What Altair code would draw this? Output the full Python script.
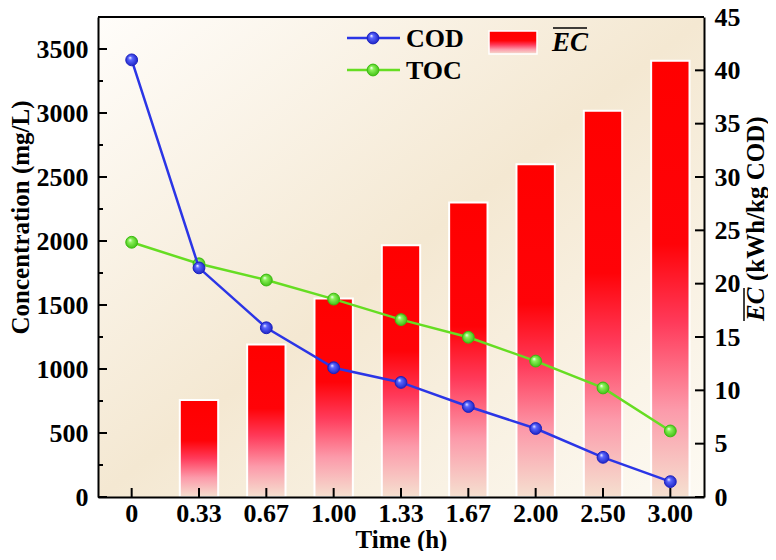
import altair as alt
import pandas as pd

# time points (h)
times = ["0", "0.33", "0.67", "1.00", "1.33", "1.67", "2.00", "2.50", "3.00"]
# concentrations (mg/L)
cod = [3415, 1790, 1322, 1010, 895, 707, 535, 310, 120]
toc = [1990, 1822, 1695, 1546, 1386, 1248, 1062, 852, 516]
# energy consumption (kWh/kg COD), no bar at t = 0
ec_times = times[1:]
ec = [9.1, 14.3, 18.6, 23.6, 27.6, 31.2, 36.2, 40.9]

left_ticks = [0, 500, 1000, 1500, 2000, 2500, 3000, 3500]
left_minor = [250, 750, 1250, 1750, 2250, 2750, 3250]
right_ticks = [0, 5, 10, 15, 20, 25, 30, 35, 40, 45]

W, H = 606, 480
FONT = "Liberation Serif"

axis_common = dict(
    labelFont=FONT, labelFontSize=26, labelFontWeight="bold", labelColor="black",
    titleFont=FONT, titleFontSize=25, titleFontWeight="bold", titleColor="black",
    ticks=False, grid=False, domainColor="black", domainWidth=2, zindex=1,
)


def x_enc(center):
    kw = {"bandPosition": 0.5} if center else {}
    return alt.X(
        "Time:O", sort=times,
        scale=alt.Scale(domain=times, paddingInner=0.43, paddingOuter=0.215),
        axis=alt.Axis(title="Time (h)", labelAngle=0, labelPadding=3,
                      titleY=50, titleBaseline="alphabetic", **axis_common),
        **kw,
    )


y_left = alt.Y(
    "Conc:Q", scale=alt.Scale(domain=[0, 3750], nice=False),
    axis=alt.Axis(orient="left", values=left_ticks, format="d",
                  title="Concentration (mg/L)", labelPadding=10,
                  titleX=-78, titleY=200, titleAngle=270,
                  titleBaseline="middle", titleAlign="center", **axis_common),
)
y_right = alt.Y(
    "EC:Q", scale=alt.Scale(domain=[0, 45], nice=False),
    axis=alt.Axis(orient="right", values=right_ticks, format="d", title="",
                  labelPadding=10, **axis_common),
)

bar_grad = alt.LinearGradient(
    gradient="linear", x1=0, y1=0, x2=0, y2=1,
    stops=[
        alt.GradientStop(offset=0, color="#ff0000"),
        alt.GradientStop(offset=0.42, color="#ff0308"),
        alt.GradientStop(offset=0.6, color="#ff3a5a"),
        alt.GradientStop(offset=0.8, color="#fc9aaa"),
        alt.GradientStop(offset=1, color="#f5e0d0"),
    ],
)
bg_grad = alt.LinearGradient(
    gradient="linear", x1=0, y1=0, x2=1, y2=1,
    stops=[
        alt.GradientStop(offset=0, color="#fffdfa"),
        alt.GradientStop(offset=0.5, color="#f4e8d2"),
        alt.GradientStop(offset=1, color="#fdfaf3"),
    ],
)


def sphere(light, dark):
    return alt.RadialGradient(
        gradient="radial", x1=0.35, y1=0.3, r1=0, x2=0.5, y2=0.5, r2=0.55,
        stops=[
            alt.GradientStop(offset=0, color="#ffffff"),
            alt.GradientStop(offset=0.3, color=light),
            alt.GradientStop(offset=1, color=dark),
        ],
    )


one = pd.DataFrame({"a": [0]})

bg = alt.Chart(one).mark_rect(fill=bg_grad).encode(
    x=alt.value(0), x2=alt.value(W), y=alt.value(0), y2=alt.value(H)
)

bars = alt.Chart(pd.DataFrame({"Time": ec_times, "EC": ec})).mark_bar(
    fill=bar_grad, stroke="white", strokeWidth=2
).encode(x=x_enc(False), y=y_right)

right_tk = alt.Chart(pd.DataFrame({"EC": right_ticks})).mark_rule(
    color="black", strokeWidth=2
).encode(y=y_right, x=alt.value(W - 9), x2=alt.value(W))

left_tk = alt.Chart(pd.DataFrame({"Conc": left_ticks})).mark_rule(
    color="black", strokeWidth=2
).encode(y=y_left, x=alt.value(0), x2=alt.value(9))
left_mn = alt.Chart(pd.DataFrame({"Conc": left_minor})).mark_rule(
    color="black", strokeWidth=2
).encode(y=y_left, x=alt.value(0), x2=alt.value(5))
x_tk = alt.Chart(pd.DataFrame({"Time": times})).mark_rule(
    color="black", strokeWidth=2
).encode(x=x_enc(True), y=alt.value(H), y2=alt.value(H - 9))


def series(values, color, light, dark):
    base = alt.Chart(pd.DataFrame({"Time": times, "Conc": values})).encode(
        x=x_enc(True), y=y_left
    )
    line = base.mark_line(color=color, strokeWidth=2.5)
    pts = base.mark_circle(size=140, opacity=1, fill=sphere(light, dark),
                           stroke=dark, strokeWidth=1)
    return line + pts


cod_l = series(cod, "#2b35e6", "#5a66ff", "#1a20c0")
toc_l = series(toc, "#66dd22", "#8cf25a", "#3cbc10")

# legend
def leg_item(label, y, color, light, dark):
    ln = alt.Chart(one).mark_rule(color=color, strokeWidth=2.5).encode(
        x=alt.value(249), x2=alt.value(302), y=alt.value(y)
    )
    pt = alt.Chart(one).mark_circle(size=140, opacity=1, fill=sphere(light, dark),
                                    stroke=dark, strokeWidth=1).encode(
        x=alt.value(275), y=alt.value(y)
    )
    tx = alt.Chart(one).mark_text(
        text=label, font=FONT, fontSize=26, fontWeight="bold", color="black",
        align="left", baseline="middle"
    ).encode(x=alt.value(308), y=alt.value(y + 1))
    return ln + pt + tx


leg_cod = leg_item("COD", 21, "#2b35e6", "#5a66ff", "#1a20c0")
leg_toc = leg_item("TOC", 53, "#66dd22", "#8cf25a", "#3cbc10")
leg_rect = alt.Chart(one).mark_rect(fill=bar_grad, stroke="white", strokeWidth=1.5).encode(
    x=alt.value(391), x2=alt.value(439), y=alt.value(14), y2=alt.value(37)
)
leg_ec = alt.Chart(one).mark_text(
    text="EC", font=FONT, fontSize=27, fontStyle="italic", fontWeight="bold",
    color="black", align="left", baseline="middle"
).encode(x=alt.value(454), y=alt.value(26))
leg_bar = alt.Chart(one).mark_rule(color="black", strokeWidth=1.5).encode(
    x=alt.value(455), x2=alt.value(489), y=alt.value(11)
)

# right axis title
rt_ec = alt.Chart(one).mark_text(
    text="EC", font=FONT, fontSize=25, fontStyle="italic", fontWeight="bold",
    color="black", align="left", baseline="middle", angle=270
).encode(x=alt.value(W + 52), y=alt.value(304))
rt_unit = alt.Chart(one).mark_text(
    text="(kWh/kg COD)", font=FONT, fontSize=25, fontWeight="bold",
    color="black", align="left", baseline="middle", angle=270
).encode(x=alt.value(W + 52), y=alt.value(264))
rt_bar = alt.Chart(one).mark_rule(color="black", strokeWidth=1.5).encode(
    x=alt.value(W + 40), y=alt.value(304), y2=alt.value(271)
)

top_border = alt.Chart(one).mark_rule(color="black", strokeWidth=2).encode(
    x=alt.value(0), x2=alt.value(W), y=alt.value(0)
)

right_layer = alt.layer(bars, right_tk)
left_layer = alt.layer(x_tk, left_tk, left_mn, toc_l, cod_l)

chart = alt.layer(
    bg, right_layer, left_layer, top_border,
    leg_cod, leg_toc, leg_rect, leg_ec, leg_bar,
    rt_ec, rt_unit, rt_bar,
).resolve_scale(y="independent").properties(
    width=W, height=H,
    autosize=alt.AutoSizeParams(type="none"),
    padding={"left": 90, "top": 9, "right": 64, "bottom": 54},
    background="white",
).configure_view(strokeWidth=0)

chart.save("out.html", embed_options={"renderer": "svg", "actions": False})
